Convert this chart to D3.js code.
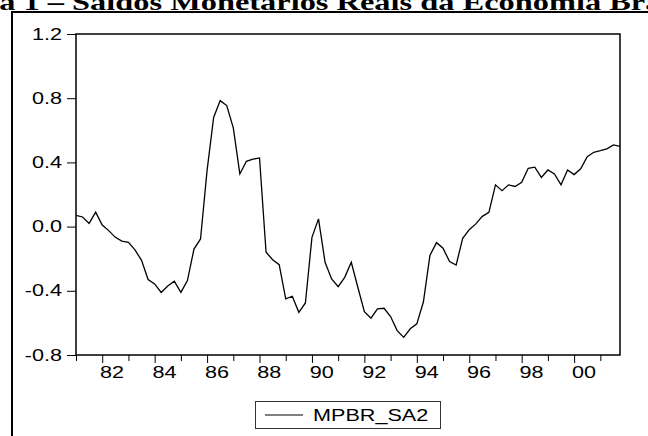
<!DOCTYPE html>
<meta charset="utf-8">
<style>
body { margin: 0; background: #fff; }
svg { display: block; }
.axis path.domain { display: none; }
.axis line { stroke: #000; }
.axis text { font-family: "Liberation Sans", Arial, sans-serif; font-size: 16px; fill: #000; }
.line { fill: none; stroke: #000; stroke-width: 1.3px; }
</style>
<body>
<div id="chart"></div>
<script src="https://d3js.org/d3.v7.min.js"></script>
<script>
// quarterly series, 1981Q1 .. 2001Q4
var startYear = 1981;
var seriesName = "MPBR_SA2";
var values = [
  0.07, 0.06, 0.02, 0.09, 0.01, -0.025, -0.067, -0.09, -0.098, -0.145,
  -0.21, -0.33, -0.357, -0.41, -0.37, -0.34, -0.41, -0.336, -0.14, -0.077,
  0.35, 0.68, 0.785, 0.754, 0.615, 0.328, 0.407, 0.42, 0.428, -0.16,
  -0.206, -0.237, -0.45, -0.434, -0.534, -0.476, -0.067, 0.048, -0.222, -0.326,
  -0.374, -0.316, -0.222, -0.378, -0.53, -0.571, -0.513, -0.509, -0.56, -0.648,
  -0.69, -0.637, -0.606, -0.47, -0.18, -0.10, -0.135, -0.218, -0.239, -0.073,
  -0.019, 0.017, 0.064, 0.089, 0.26, 0.224, 0.26, 0.25, 0.276, 0.363,
  0.37, 0.307, 0.353, 0.328, 0.26, 0.353, 0.324, 0.36, 0.436, 0.463,
  0.473, 0.484, 0.509, 0.5
];
var yTicks = [-0.8, -0.4, 0.0, 0.4, 0.8, 1.2];
var xYears = d3.range(1981, 2002);
var xLabelYears = [1982, 1984, 1986, 1988, 1990, 1992, 1994, 1996, 1998, 2000];
var title = "Figura 1 – Saldos Monetários Reais da Economia Brasileira";

var W = 648, H = 436;
var plot = {left: 76, top: 34, right: 620, bottom: 355};
var k = 1.35; // horizontal text stretch of the source picture

var svg = d3.select("#chart").append("svg")
    .attr("width", W)
    .attr("height", H);

// stretch text horizontally around its anchor
function stretch(sel) {
  sel.attr("transform", function() {
    var x = +this.getAttribute("x") || 0;
    return "translate(" + x + ",0) scale(" + k + ",1) translate(" + (-x) + ",0)";
  });
}

// title, clipped by the top edge
var t = svg.append("text")
    .attr("y", 10)
    .style("font-family", "'Liberation Serif', 'Times New Roman', serif")
    .style("font-weight", "bold")
    .style("font-size", "24px")
    .text("Figura 1 – ");
var prefixW = t.node().getComputedTextLength();
t.text(title).attr("x", 64 - prefixW * k);
stretch(t);

// outer frame
svg.append("rect")
    .attr("x", 12).attr("y", 12)
    .attr("width", W + 20).attr("height", H + 20)
    .attr("fill", "none").attr("stroke", "#000").attr("stroke-width", 2);

var x = d3.scaleLinear().domain([0, values.length - 1]).range([plot.left, plot.right]);
var y = d3.scaleLinear().domain([-0.8, 1.2]).range([plot.bottom, plot.top]);

function yearIdx(yr) { return (yr - startYear) * 4; }

// y axis
var gy = svg.append("g").attr("class", "y axis")
    .attr("transform", "translate(" + plot.left + ",0)")
    .call(d3.axisLeft(y).tickValues(yTicks)
      .tickFormat(function(d) { return d.toFixed(1); })
      .tickSize(9).tickPadding(5));
gy.selectAll("text").call(stretch);

// x axis ticks (major at even years)
var gx = svg.append("g").attr("class", "x axis")
    .attr("transform", "translate(0," + plot.bottom + ")")
    .call(d3.axisBottom(x).tickValues(xYears.map(yearIdx)).tickFormat("").tickSize(8));
gx.selectAll(".tick line")
    .attr("y2", function(d) { return ((d / 4) % 2 === 1) ? 8 : 6; });

// x labels centred on the year
svg.append("g").attr("class", "axis")
  .selectAll("text")
  .data(xLabelYears)
  .enter().append("text")
    .attr("x", function(d) { return x(yearIdx(d) + 1.5); })
    .attr("y", 378)
    .attr("text-anchor", "middle")
    .text(function(d) { return d3.format("02")(d % 100); })
    .call(stretch);

// the series
var line = d3.line()
    .x(function(d, i) { return x(i); })
    .y(function(d) { return y(d); });

svg.append("path")
    .datum(values)
    .attr("class", "line")
    .attr("d", line);

// plot box
svg.append("rect")
    .attr("x", plot.left).attr("y", plot.top)
    .attr("width", plot.right - plot.left).attr("height", plot.bottom - plot.top)
    .attr("fill", "none").attr("stroke", "#000").attr("stroke-width", 1.5);

// legend
var lg = svg.append("g");
lg.append("rect")
    .attr("x", 255.5).attr("y", 401.5).attr("width", 185).attr("height", 27)
    .attr("fill", "none").attr("stroke", "#333").attr("stroke-width", 1);
lg.append("line")
    .attr("x1", 265).attr("x2", 303).attr("y1", 415).attr("y2", 415)
    .attr("stroke", "#000").attr("stroke-width", 1.2);
lg.append("text")
    .attr("x", 313).attr("y", 421)
    .style("font-family", "'Liberation Sans', Arial, sans-serif")
    .style("font-size", "16px")
    .text(seriesName)
    .call(stretch);
</script>
</body>
